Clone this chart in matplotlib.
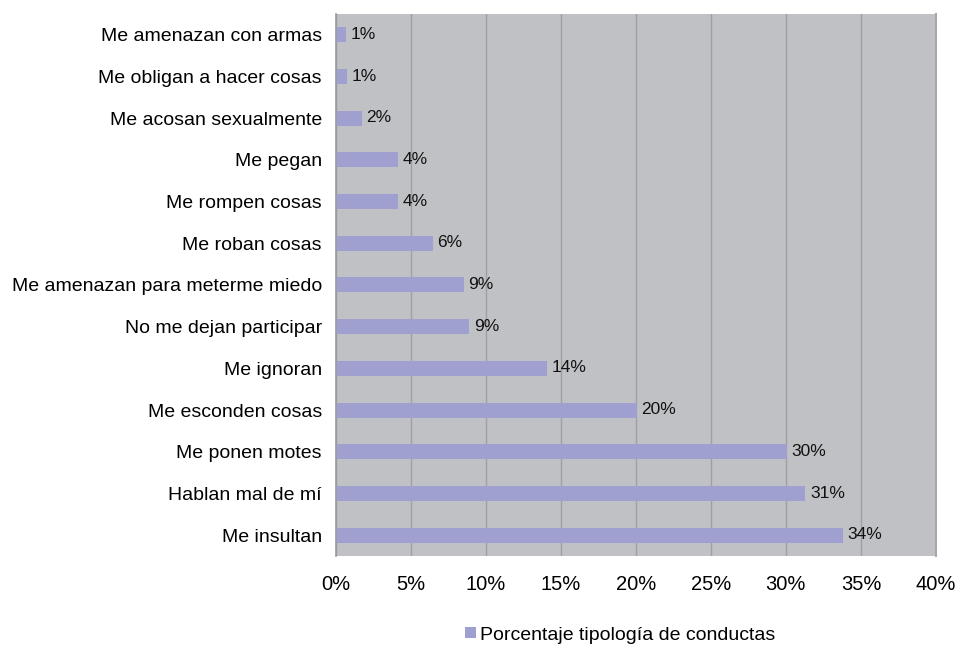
import matplotlib
matplotlib.use("Agg")
import matplotlib.pyplot as plt
from matplotlib.ticker import FuncFormatter, MultipleLocator

categories = [
    "Me amenazan con armas",
    "Me obligan a hacer cosas",
    "Me acosan sexualmente",
    "Me pegan",
    "Me rompen cosas",
    "Me roban cosas",
    "Me amenazan para meterme miedo",
    "No me dejan participar",
    "Me ignoran",
    "Me esconden cosas",
    "Me ponen motes",
    "Hablan mal de mí",
    "Me insultan",
]
values = [0.7, 0.75, 1.75, 4.15, 4.15, 6.45, 8.55, 8.9, 14.1, 20.07, 30.07, 31.3, 33.8]
series_name = "Porcentaje tipología de conductas"

plt.rcParams['font.family'] = ['Liberation Sans', 'DejaVu Sans']

fig = plt.figure(figsize=(9.56, 6.48), dpi=100)
ax = fig.add_axes([0.3512, 0.142, 0.979 - 0.3512, 0.9784 - 0.142])
ax.set_facecolor("#C0C1C5")

y = list(range(len(categories)))
bars = ax.barh(y, values, height=0.36, color="#9FA0D0", label=series_name, zorder=2)
for yi, v in zip(y, values):
    ax.text(v + 0.3, yi - 0.01, f"{v:.0f}%", va="center", ha="left", fontsize=12.5, color="#111111", zorder=3)

ax.set_ylim(len(categories) - 0.5, -0.5)
ax.set_xlim(0, 40)
ax.xaxis.set_major_locator(MultipleLocator(5))
ax.xaxis.set_major_formatter(FuncFormatter(lambda x, p: f"{x:.0f}%"))
ax.set_yticks(y)
ax.set_yticklabels(categories, fontsize=14)
ax.tick_params(axis="x", labelsize=14.5, length=0, pad=14)
ax.tick_params(axis="y", length=0, pad=10)
ax.grid(axis="x", color="#A0A0A4", linewidth=1, zorder=1)
for s in ["top", "bottom"]:
    ax.spines[s].set_visible(False)
ax.spines["left"].set_color("#9A9A9E")
ax.spines["left"].set_linewidth(1.2)
ax.spines["right"].set_color("#A8A8AC")
ax.spines["right"].set_linewidth(1.5)

fig.legend(handles=[bars], labels=[series_name], loc="center", bbox_to_anchor=(0.6485, 1 - 635 / 648),
           frameon=False, fontsize=14, handlelength=0.55, handleheight=0.55, handletextpad=0.2)

fig.savefig("out.png", dpi=100)
